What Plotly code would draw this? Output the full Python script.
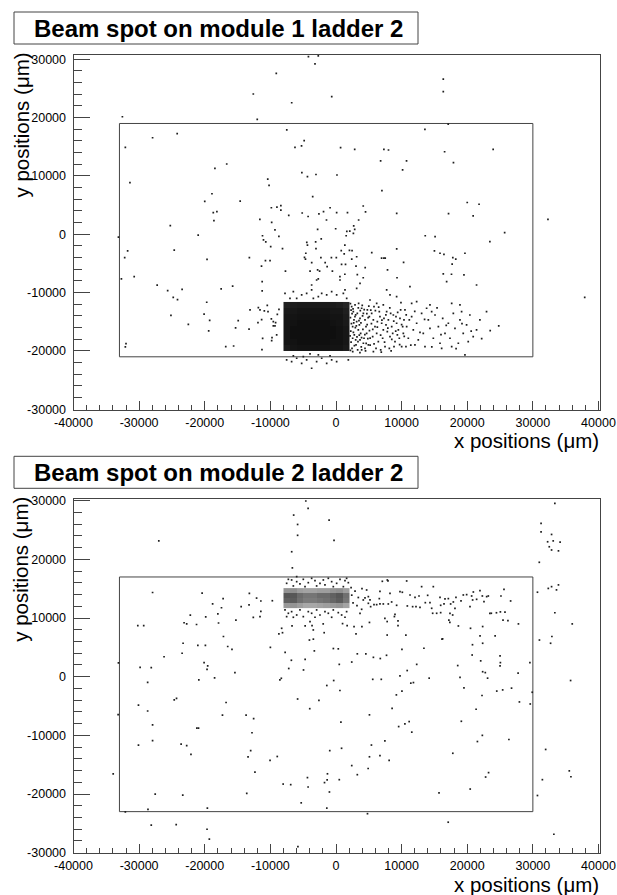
import plotly.graph_objects as go

# ---------------- data ----------------
# Module 1, ladder 2: isolated hits (x, y) in micrometres
top_hits = [
    (-4200, 30450), (-2700, 30600), (-3200, 29200), (-9100, 27600), (-12600, 24050), (-6750, 22550),
    (-650, 23600), (-12000, 19700), (-32550, 20150), (-7500, 17900), (-27950, 16550), (-24200, 17250),
    (-4850, 16050), (-5250, 15150), (-6250, 14900), (700, 14850), (2850, 14550), (-32100, 14900),
    (-16650, 12050), (-18450, 11300), (-31400, 8850), (-10400, 9450), (-10200, 8400), (-4350, 9900),
    (-3050, 10250), (150, 10170), (-5200, 10570), (-18900, 6950), (-14600, 5700), (-20000, 5650),
    (-3550, 6450), (-18700, 3700), (-18150, 3900), (-18600, 2350), (-9850, 4550), (-9000, 4650),
    (-8400, 4900), (-8400, 4150), (-7200, 3250), (-5150, 3650), (-4250, 3050), (-2600, 3500),
    (-1900, 3900), (-900, 4550), (100, 3700), (1750, 3700), (-1450, 2450), (-11600, 2550),
    (-9800, 2050), (-25250, 1500), (-21000, -150), (-33150, -500), (-9300, 750), (-8700, -350),
    (-11200, -250), (-11050, -950), (-10700, -1300), (-9950, -2100), (-8150, -2450), (-4450, -1370),
    (-4350, -1850), (-3100, -1300), (-2250, -800), (-2800, 850), (-50, 950), (1650, 500),
    (2100, 550), (2850, 850), (2700, 1450), (3450, 2450), (1550, -250), (2650, 150),
    (1350, -1850), (800, -2800), (2050, -2750), (2450, -2800), (1250, -3350), (-31750, -2850),
    (-24650, -2700), (-32200, -4000), (-19650, -4300), (-13200, -4000), (-10750, -4500), (-10050, -4500),
    (-11350, -5450), (-7700, -6300), (-4600, -3250), (-4800, -3950), (-4650, -4250), (-3700, -4850),
    (-3050, -2450), (-2300, -4000), (-1650, -4850), (-1350, -5550), (-700, -4000), (50, -4000),
    (850, -5150), (1450, -5150), (2400, -4250), (3150, -3850), (3050, -5450), (-3950, -6300),
    (-2800, -6100), (-2500, -6300), (-550, -6300), (-30750, -7250), (-32700, -7650), (1350, -6850),
    (3250, -6900), (-2700, -7650), (600, -7250),
    (16350, 26600), (16350, 24450), (17100, 18900), (13550, 18000), (7300, 14550), (8000, 14450),
    (6800, 12600), (10750, 12600), (10150, 11050), (16550, 14150), (17900, 12300), (23950, 14550),
    (7000, 7500), (4150, 4850), (4500, 3850), (9250, 3600), (20000, 5450), (21800, 5150),
    (20900, 3150), (17150, 3550), (32300, 2550), (25700, 300), (23450, -1250), (13600, -250),
    (15100, -400), (15000, -2850), (15850, -3250), (16450, -3450), (17800, -4000), (18250, -4250),
    (19650, -3250), (9250, -2500), (6950, -4100), (7300, -4100), (7500, -4100), (5450, -3150),
    (10300, -4800), (7850, -6100), (4450, -5700), (4150, -7450), (9300, -7450), (16350, -6800),
    (17600, -6850), (19500, -6950), (17700, -5100),
    (-27250, -8700), (-25650, -9650), (-23450, -9450), (-24800, -10800), (-24150, -11200), (-25150, -13900),
    (-22500, -15450), (-19700, -11650), (-20100, -13700), (-19250, -14750), (-19400, -16550), (-17500, -9350),
    (-15750, -8900), (-16800, -19250), (-15600, -19150), (-14900, -14800), (-15300, -16050), (-13250, -16250),
    (-13100, -12950), (-11250, -8100), (-11250, -9700), (-11830, -12570), (-11580, -12970), (-10920, -13140),
    (-10360, -13260), (-10470, -12170), (-11330, -14630), (-11890, -15140), (-11180, -17830), (-9750, -17710),
    (-9800, -18230), (-9550, -15710), (-9300, -15710), (-11280, -19770), (-32000, -18740), (-32100, -19310),
    (-9850, -14510), (-9550, -14970), (-9200, -15140), (-8940, -13710), (-8690, -12860), (-9040, -17250),
    (37900, -10800),
]

# Module 1, ladder 2: hits around the beam spot and in its tail
top_spot_hits = [
    (-7770, -10110), (-6500, -9830), (-5230, -10400), (-4470, -10110), (-3710, -9540), (-2690, -10690),
    (-2180, -10110), (-1420, -10400), (-660, -9830), (100, -10400), (1120, -10110), (-3450, -10970),
    (-5990, -10970), (-7010, -10970), (1630, -10970), (1370, -9540), (3660, -8400), (3150, -9260),
    (610, -7830), (-2950, -7830), (-3710, -8690),
    (5180, -11260), (6200, -11830), (7210, -12110), (8230, -10400), (9240, -10690), (7720, -9540),
    (11270, -8970), (11530, -11830), (12290, -11540), (13810, -12680), (14320, -12110), (16860, -8120),
    (17630, -11830), (18890, -12110), (21420, -8690), (22940, -13250),
    (2390, -12400), (2640, -13250), (2890, -14110), (3150, -14970), (2540, -15820), (3400, -16400),
    (2790, -17250), (3660, -18110), (3050, -18970), (2440, -19540), (3910, -12680), (4170, -13540),
    (4420, -14680), (3560, -15540), (4670, -16970), (4270, -17820), (4930, -18970), (3910, -19820),
    (2740, -14680), (3250, -13540), (4570, -15820), (5080, -14110), (3660, -14400), (3000, -18110),
    (4420, -19540), (3450, -11830), (4780, -12970), (4170, -18680), (2540, -17820), (3760, -16970),
    (2200, -11900), (2300, -13000), (2200, -14300), (2350, -15300), (2250, -16600), (2300, -18500),
    (2200, -19900), (2600, -12800), (2700, -15200), (2650, -16800), (2800, -19100), (2900, -12100),
    (3000, -13800), (3100, -15700), (3200, -17600), (3300, -19800), (3400, -12600), (3500, -14800),
    (3550, -17300), (3700, -13100), (3800, -15200), (3850, -19300), (4000, -12200), (4050, -14000),
    (4100, -16300), (4300, -12900), (4400, -17200), (4500, -20000), (4700, -13600), (4750, -15500),
    (4850, -17900), (5000, -12300), (5100, -16500), (5200, -19000), (5300, -13000), (5400, -15300),
    (2450, -13600), (2950, -16000), (3350, -18400), (3900, -17700), (4600, -18700), (5200, -17800),
    (2150, -17400), (2550, -20100), (3650, -20300), (4900, -14300),
    (5440, -13540), (5690, -14680), (5940, -15820), (6200, -16970), (6450, -18390), (6700, -14110),
    (6960, -15250), (7210, -16400), (7470, -19250), (7720, -13250), (7980, -14680), (8230, -17540),
    (8490, -15820), (8740, -13830), (8990, -18390), (9240, -15250), (9500, -16400), (9750, -14400),
    (10010, -19250), (10260, -16970), (10510, -12970), (10770, -15820), (11020, -17820), (5590, -17540),
    (6100, -19540), (6600, -13250), (7110, -17820), (7620, -15540), (8130, -19540), (8640, -16970),
    (9140, -14110), (9650, -17820), (10160, -15820), (10660, -19250), (11170, -14680), (5790, -12400),
    (6810, -19820), (7820, -16680), (8840, -19250), (9850, -12970), (6300, -14970), (7310, -14400),
    (8330, -13540), (9350, -17250), (10360, -14680),
    (5600, -16300), (5800, -18800), (6000, -13100), (6300, -15900), (6500, -12500), (6800, -17300),
    (7000, -14700), (7400, -18500), (7600, -13800), (7900, -16100), (8200, -12600), (8500, -18000),
    (8800, -14900), (9100, -16600), (9400, -13400), (9700, -18900), (10000, -15500), (10400, -17500),
    (10700, -13800), (5700, -20100), (6900, -20200), (8400, -20000), (9900, -11700), (11400, -19000),
    (11530, -14110), (11780, -16400), (12290, -15250), (12540, -18110), (13050, -13540), (13300, -16970),
    (13560, -19250), (14070, -14680), (14320, -16110), (14830, -17820), (15090, -13830), (15600, -15820),
    (15850, -18680), (16260, -14400), (16610, -16970), (17120, -15250), (17370, -17820), (17880, -13540),
    (18130, -16110), (18640, -18680), (18890, -14680), (19390, -16970), (19900, -15540), (20400, -13830),
    (20910, -17540), (21420, -16400), (12030, -18970), (14580, -13250), (16100, -19540), (17630, -19250),
    (19140, -13250), (20150, -18390), (21930, -14680), (19650, -20680),
    (12000, -13200), (12800, -16800), (13500, -14600), (14600, -19300), (15400, -12600), (16000, -17200),
    (16800, -15600), (18300, -19600), (19200, -15300), (20600, -16600), (22200, -17900), (23500, -16500),
    (24800, -15700),
    (-7520, -21530), (-6760, -21820), (-5990, -21250), (-5230, -22110), (-4470, -21530), (-3710, -22960),
    (-2950, -21820), (-2180, -21250), (-1420, -22110), (-660, -21530), (100, -21820), (1880, -21530),
    (-4980, -20960), (-2690, -20680), (-6500, -20850), (-910, -20850), (-3960, -20510),
]

# Module 1, ladder 2: hit density (0..1) in the saturated beam-spot core
top_core_x = [-7500, -6500, -5500, -4500, -3500, -2500, -1500, -500, 500, 1500]
top_core_y = [-19475, -18425, -17375, -16325, -15275, -14225, -13175, -12125]
top_core_z = [
    [0.90, 0.92, 0.93, 0.93, 0.93, 0.93, 0.93, 0.92, 0.92, 0.90],
    [0.92, 0.93, 0.94, 0.94, 0.94, 0.94, 0.94, 0.93, 0.93, 0.91],
    [0.92, 0.94, 0.94, 0.94, 0.94, 0.94, 0.94, 0.94, 0.93, 0.91],
    [0.92, 0.94, 0.94, 0.94, 0.94, 0.94, 0.94, 0.94, 0.93, 0.91],
    [0.92, 0.93, 0.94, 0.94, 0.94, 0.94, 0.94, 0.93, 0.92, 0.90],
    [0.91, 0.92, 0.93, 0.93, 0.93, 0.93, 0.93, 0.92, 0.92, 0.89],
    [0.90, 0.91, 0.92, 0.92, 0.92, 0.92, 0.92, 0.91, 0.91, 0.88],
    [0.87, 0.89, 0.90, 0.90, 0.90, 0.90, 0.90, 0.89, 0.88, 0.85],
]

# Module 2, ladder 2: isolated hits (x, y) in micrometres
bot_hits = [
    (-4600, 29950), (-4250, 28700), (-6450, 27550), (-5850, 25950), (-5850, 24100), (-1050, 26700),
    (-300, 23250), (-27000, 23150), (-6750, 21300), (-6650, 18550), (-27950, 14350), (-20400, 14250),
    (-17200, 13300), (-18800, 12400), (-17450, 11750), (-22200, 10500), (-23150, 9200), (-22750, 9000),
    (-21250, 8900), (-19850, 10200), (-18000, 10700), (-17900, 9150), (-17150, 6850), (-16500, 5150),
    (-15850, 4650), (-15250, 9650), (-14450, 11950), (-13250, 12250), (-13200, 14200), (-12600, 10100),
    (-12100, 13400), (-11450, 12900), (-11450, 11150), (-9700, 12950), (-11580, 10240), (-10000, 5000),
    (-8700, 7300), (-8150, 7500), (-7750, 4150), (-6800, 2800), (-4700, 2950), (-4050, 6250),
    (-6700, 8650), (-4700, 8650), (-3450, 6400), (-3300, 4400), (-1800, 7500), (-1950, 9000),
    (-400, 4800), (350, 4750), (500, 2100), (1000, 9050), (1700, 8700), (2400, 2500),
    (2750, 8550), (3050, 7300), (3250, 3900), (-26200, 3400), (-23450, 4000), (-21050, 5350),
    (-19900, 5350), (-23300, 5700), (-20100, 2400), (-19550, 1850), (-19650, 1250), (-18500, -200),
    (-20900, -550), (-15400, 700), (-8550, -550), (-8330, -270), (-30200, 8700), (-29300, 8700),
    (-29850, 1600), (-28150, 1550), (-28700, -950), (-33150, 2350), (-33200, -6450), (-30100, -4850),
    (-28700, -5850), (-24650, -3950), (-24300, -3700), (-16750, -4400), (-17300, -6550), (-13700, -6550),
    (-12550, -7150), (-5850, -3800), (-4000, -5450), (-2600, -4050), (-1400, -1500), (-350, -650),
    (600, -2350), (-4950, 1150), (-7200, 1400), (-3650, 8700),
    (-27950, -8200), (-30100, -11650), (-27950, -10900), (-23600, -11500), (-22750, -11750), (-22100, -13250),
    (-21200, -8750), (-20950, -8750), (-12800, -9550), (-13000, -12600), (-13400, -13650), (-8950, -13600),
    (-10050, -14250), (-12350, -16250), (-33950, -16550), (-8050, -18300), (-6900, -18400), (-4350, -17200),
    (-4250, -18800), (-1300, -16550), (-1350, -17600), (-1750, -18050), (-1000, -19650), (500, -17550),
    (850, -12200), (-950, -12600), (2400, -15150), (3250, -16700), (-5300, -21500), (-1400, -22400),
    (-27550, -20000), (-23350, -20200), (-13600, -19900), (-28650, -22600), (-32100, -23050), (-19600, -22400),
    (-28150, -25300), (-24350, -25200), (-19650, -26000), (-19300, -27700), (750, -7750), (-5800, -28950),
    (33350, 29550), (31250, 26150), (31250, 24700), (32850, 24250), (32250, 23000), (33100, 23150),
    (34150, 22950), (32500, 22150), (32850, 21600), (33900, 21450), (30980, 19500), (33900, 15650),
    (33600, 14800), (32850, 15350), (32350, 15050), (30700, 14400), (33350, 10900), (36000, 9000),
    (32900, 6850), (32700, 5700), (31000, 6250), (35750, -650), (29900, -2650), (29600, -4650),
    (29550, 2400), (27750, 600), (26750, -1950), (25400, -2250), (24500, -2450), (27950, -4300),
    (25000, 3550), (25050, 2400), (25000, 1850), (23100, -250), (22750, 700), (22350, 850),
    (22050, 2700), (22350, 5700), (21950, 6950), (24250, 6950), (20750, 3700), (20800, 5450),
    (18550, 1900), (18900, -100), (19500, -1900), (21350, -5550), (22250, -3200), (16150, 6400),
    (14200, -250), (11800, -1000), (11400, -1100), (9750, 150), (10050, -2450), (13400, 4850),
    (12300, 2100), (10850, 1050), (6900, -450), (5600, -450), (9200, -3100), (8550, -5400),
    (5100, -6500), (7700, 3650), (6750, 3100), (5700, 3300), (10050, 4650), (4550, 3900),
    (9450, 9500), (9450, 8700), (8900, 10250), (7450, 9950), (7800, 9400), (5100, 9250),
    (3950, 8550), (7800, 7100), (10650, 7100), (16250, 6450), (18650, 8650), (17350, 9250),
    (17200, 9650), (20500, 8250), (22350, 8550), (25450, 9650), (26200, 9550), (27800, 9000),
    (24450, 10900), (25050, 11050), (25750, 11000), (23450, 10800),
    (9550, -8500), (10500, -8050), (11150, -7650), (11550, -9450), (7450, -10950), (5400, -11650),
    (6700, -13450), (5100, -13650), (8100, -14250), (4900, -15650), (17800, -13050), (21550, -11050),
    (22300, -10000), (26350, -10700), (19100, -7600), (23250, -16350), (22800, -17100), (20450, -19150),
    (15700, -19800), (31950, -12400), (31450, -17550), (30700, -20250), (35550, -16050), (35800, -17050),
    (4800, -23350), (17100, -24800), (33200, -26850),
]

# Module 2, ladder 2: hits around the beam spot and in its tail
bot_spot_hits = [
    (3960, 15010), (4670, 14780), (4930, 13650), (4160, 13080), (4930, 12510), (6700, 14560),
    (6600, 13310), (7820, 16490), (7920, 16320), (7060, 16260), (8230, 14220), (9750, 14500),
    (10770, 16320), (10110, 14390), (11280, 13930), (12040, 13530), (12650, 13760), (13050, 15350),
    (13970, 13870), (13610, 12620), (14320, 12620), (14830, 15350), (14730, 10810), (15340, 10810),
    (15850, 13530), (15950, 12170), (16460, 12400), (16610, 13250), (17120, 13310), (17470, 12400),
    (17880, 12740), (18130, 11660), (18280, 13530), (19050, 12910), (19400, 13930), (19910, 13990),
    (20670, 13760), (20930, 14440), (21940, 14670), (22300, 13760), (22960, 13650), (23210, 13760),
    (20820, 13080), (20420, 11940), (21430, 13190), (22550, 12800), (25140, 13760), (25600, 14900),
    (26610, 12910), (23670, 10810), (17370, 10810), (17780, 10520), (15950, 10920), (14580, 11660),
    (12800, 11830), (12190, 11940), (11680, 11940), (10870, 12060), (9240, 12170), (8480, 12740),
    (7970, 12400), (7210, 12400), (6700, 12400), (6200, 12280), (5790, 12280), (5280, 11940),
    (5180, 13080), (4420, 13420), (3910, 11490), (3660, 10810), (8990, 10640),
    (2400, 13900), (2600, 12600), (2900, 14600), (3200, 12100), (3400, 13500), (2300, 15200),
    (-7520, 15920), (-6760, 16490), (-5990, 16200), (-5490, 15810), (-4980, 16600), (-4220, 16030),
    (-3710, 16770), (-3200, 16370), (-2440, 15920), (-1930, 16490), (-1170, 16770), (-660, 16200),
    (100, 15920), (610, 16600), (1370, 16370), (1880, 16030), (-6500, 15470), (-2950, 15470),
    (-410, 15350), (1120, 15350), (-7260, 16600), (-4720, 15350), (-1680, 15640), (1620, 16770),
    (-5990, 17060),
    (-7770, 11380), (-7260, 10810), (-6760, 11090), (-5990, 10520), (-5490, 11380), (-4980, 10240),
    (-4220, 11090), (-3710, 10810), (-2950, 11380), (-2440, 10520), (-1680, 11090), (-1170, 10810),
    (-410, 11380), (350, 10920), (860, 10520), (1620, 11090), (-7520, 10240), (-6500, 10130),
    (-3200, 10130), (-660, 10130), (1370, 10130), (-3960, 9390), (-3460, 7970), (-8280, 8250),
]

# Module 2, ladder 2: hit density (0..1) in the beam-spot core
bot_core_x = [-7500, -6500, -5500, -4500, -3500, -2500, -1500, -500, 500, 1500]
bot_core_y = [12125, 12975, 13825, 14675]
bot_core_z = [
    [0.40, 0.42, 0.38, 0.34, 0.34, 0.36, 0.38, 0.40, 0.42, 0.36],
    [0.62, 0.64, 0.56, 0.52, 0.52, 0.54, 0.56, 0.60, 0.64, 0.54],
    [0.66, 0.66, 0.58, 0.54, 0.54, 0.58, 0.58, 0.62, 0.66, 0.56],
    [0.42, 0.44, 0.38, 0.36, 0.36, 0.38, 0.38, 0.42, 0.44, 0.38],
]

# Sensor outlines: (x_min, x_max, y_min, y_max)
top_sensor = (-33000, 30000, -21000, 19000)
bot_sensor = (-33000, 30000, -23000, 17000)

titles = ["Beam spot on module 1 ladder 2", "Beam spot on module 2 ladder 2"]
x_ticks = [-40000, -30000, -20000, -10000, 0, 10000, 20000, 30000, 40000]
x_tick_labels = ["-40000", "-30000", "-20000", "-10000", "0", "10000", "20000", "30000", "40000"]
y_ticks = [-30000, -20000, -10000, 0, 10000, 20000, 30000]
y_tick_labels = ["-30000", "-20000", "-10000", "0", "10000", "20000", "30000"]

# ---------------- figure ----------------
W, H = 617, 895
FONT = "Liberation Sans, Arial, Helvetica, sans-serif"
INK = "#1e1e1e"
FRAME = "#444444"

fig = go.Figure()

core_scale = [[0.0, "rgba(255,255,255,0)"], [0.001, "rgb(255,255,255)"], [1.0, "rgb(0,0,0)"]]


def add_panel(hits, spot_hits, cx, cy, cz, sensor, xa, ya):
    fig.add_trace(go.Heatmap(x=cx, y=cy, z=cz, zmin=0, zmax=1, colorscale=core_scale,
                             showscale=False, hoverinfo="skip", xaxis=xa, yaxis=ya))
    x0, x1, y0, y1 = sensor
    fig.add_trace(go.Scatter(x=[x0, x1, x1, x0, x0], y=[y0, y0, y1, y1, y0], mode="lines",
                             line=dict(color=FRAME, width=1), hoverinfo="skip",
                             xaxis=xa, yaxis=ya))
    pts = hits + spot_hits
    fig.add_trace(go.Scatter(x=[p[0] for p in pts], y=[p[1] for p in pts], mode="markers",
                             marker=dict(symbol="square", size=1.7, color=INK, line=dict(width=0)),
                             hoverinfo="skip", xaxis=xa, yaxis=ya))


add_panel(top_hits, top_spot_hits, top_core_x, top_core_y, top_core_z, top_sensor, "x", "y")
add_panel(bot_hits, bot_spot_hits, bot_core_x, bot_core_y, bot_core_z, bot_sensor, "x2", "y2")


def px_x(p):
    return p / W


def px_y(p):
    return (H - p) / H


x_dom = [px_x(73.5), px_x(600)]
common_x = dict(range=[-40000, 40230], tickmode="array", tickvals=x_ticks, ticktext=x_tick_labels,
                ticks="inside", ticklen=9, tickwidth=1, tickcolor=FRAME,
                minor=dict(tickmode="linear", tick0=0, dtick=2000, ticks="inside", ticklen=5,
                           tickwidth=1, tickcolor=FRAME),
                showline=True, linecolor=FRAME, linewidth=1, mirror=True,
                showgrid=False, zeroline=False, ticklabelstandoff=1,
                tickfont=dict(family=FONT, size=12.5, color="#000"), fixedrange=True)
common_y = dict(tickmode="array", tickvals=y_ticks, ticktext=y_tick_labels,
                ticks="inside", ticklen=16, tickwidth=1, tickcolor=FRAME,
                minor=dict(tickmode="linear", tick0=0, dtick=2000, ticks="inside", ticklen=8,
                           tickwidth=1, tickcolor=FRAME),
                showline=True, linecolor=FRAME, linewidth=1, mirror=True,
                showgrid=False, zeroline=False, ticklabelstandoff=4,
                tickfont=dict(family=FONT, size=12.5, color="#000"), fixedrange=True)

fig.update_layout(
    width=W, height=H, margin=dict(l=0, r=0, t=0, b=0, autoexpand=False),
    paper_bgcolor="white", plot_bgcolor="white", showlegend=False,
    xaxis=dict(domain=x_dom, anchor="y", **common_x),
    yaxis=dict(domain=[px_y(409.6), px_y(55)], anchor="x", range=[-30050, 30737], **common_y),
    xaxis2=dict(domain=x_dom, anchor="y2", **common_x),
    yaxis2=dict(domain=[px_y(853), px_y(499.3)], anchor="x2", range=[-30050, 30239], **common_y),
)

# panel titles, axis titles
offsets = [0, 444.3]
for title, off in zip(titles, offsets):
    fig.add_shape(type="rect", xref="paper", yref="paper",
                  x0=px_x(14), x1=px_x(418), y0=px_y(44 + off), y1=px_y(12 + off),
                  line=dict(color=FRAME, width=1), fillcolor="white")
    fig.add_annotation(text="<b>" + title + "</b>", xref="paper", yref="paper",
                       x=px_x(218), y=px_y(28.5 + off), xanchor="center", yanchor="middle",
                       showarrow=False, font=dict(family=FONT, size=24, color="#000"))
    fig.add_annotation(text="x positions (μm)", xref="paper", yref="paper",
                       x=px_x(601), y=px_y(440 + off), xanchor="right", yanchor="middle",
                       showarrow=False, font=dict(family=FONT, size=20.5, color="#000"))
    fig.add_annotation(text="y positions (μm)", xref="paper", yref="paper",
                       x=px_x(21), y=px_y(51 + off), xanchor="center", yanchor="top",
                       textangle=-90, showarrow=False,
                       font=dict(family=FONT, size=20.5, color="#000"))

fig.write_html("out.html")
